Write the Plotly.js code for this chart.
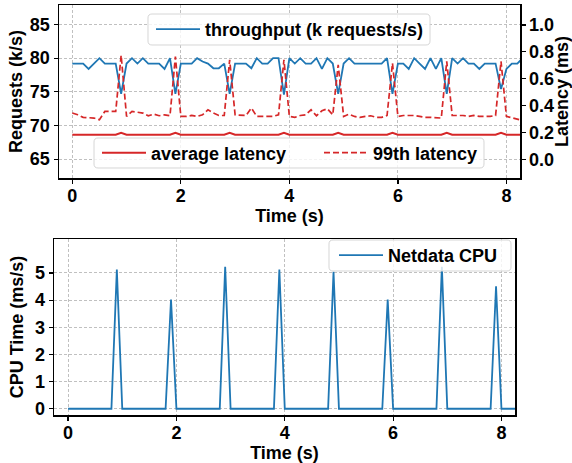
<!DOCTYPE html>
<html>
<head>
<meta charset="utf-8">
<script src="https://cdn.plot.ly/plotly-3.0.1.min.js"></script>
<style>html,body{margin:0;padding:0;background:#fff;}#chart{width:572px;height:463px;}</style>
</head>
<body>
<div id="chart"></div>
<script>
var time = [0.0,0.1,0.2,0.3,0.4,0.5,0.6,0.7,0.8,0.9,1.0,1.1,1.2,1.3,1.4,1.5,1.6,1.7,1.8,1.9,2.0,2.1,2.2,2.3,2.4,2.5,2.6,2.7,2.8,2.9,3.0,3.1,3.2,3.3,3.4,3.5,3.6,3.7,3.8,3.9,4.0,4.1,4.2,4.3,4.4,4.5,4.6,4.7,4.8,4.9,5.0,5.1,5.2,5.3,5.4,5.5,5.6,5.7,5.8,5.9,6.0,6.1,6.2,6.3,6.4,6.5,6.6,6.7,6.8,6.9,7.0,7.1,7.2,7.3,7.4,7.5,7.6,7.7,7.8,7.9,8.0,8.1,8.2,8.3];

var throughput = [79.2,79.2,79.2,78.4,79.2,80.0,79.2,79.2,79.2,74.7,
  79.2,80.0,79.2,80.0,79.2,79.2,79.2,78.4,80.0,74.7,
  79.2,79.2,79.2,80.0,79.5,79.2,78.5,78.5,79.2,74.7,
  79.2,79.2,79.2,78.5,80.0,79.2,79.2,80.0,80.0,74.6,
  80.0,79.2,80.0,79.2,79.2,80.0,78.4,80.0,79.2,74.7,
  79.2,80.0,79.2,79.2,79.2,79.2,79.2,79.2,80.0,74.7,
  79.2,79.2,78.4,80.0,79.2,78.4,80.0,78.4,80.0,74.7,
  80.0,79.2,80.0,79.2,79.2,78.4,79.2,79.2,79.2,75.4,
  78.4,79.2,79.2,80.0];

var avgLatency = [0.185,0.185,0.185,0.185,0.185,0.185,0.185,0.185,0.185,0.2,
  0.185,0.185,0.185,0.185,0.185,0.185,0.185,0.185,0.185,0.2,
  0.185,0.185,0.185,0.185,0.185,0.185,0.185,0.185,0.185,0.2,
  0.185,0.185,0.185,0.185,0.185,0.185,0.185,0.185,0.185,0.2,
  0.185,0.185,0.185,0.185,0.185,0.185,0.185,0.185,0.185,0.2,
  0.185,0.185,0.185,0.185,0.185,0.185,0.185,0.185,0.185,0.2,
  0.185,0.185,0.185,0.185,0.185,0.185,0.185,0.185,0.185,0.2,
  0.185,0.185,0.185,0.185,0.185,0.185,0.185,0.185,0.185,0.2,
  0.185,0.185,0.185,0.185];

var p99Latency = [0.346,0.333,0.314,0.309,0.309,0.296,0.358,0.358,0.358,0.775,
  0.321,0.358,0.351,0.346,0.326,0.338,0.326,0.333,0.326,0.765,
  0.321,0.321,0.328,0.321,0.333,0.370,0.346,0.328,0.328,0.741,
  0.333,0.328,0.328,0.383,0.321,0.321,0.321,0.321,0.333,0.741,
  0.321,0.314,0.328,0.333,0.370,0.326,0.363,0.378,0.333,0.704,
  0.321,0.338,0.321,0.314,0.321,0.326,0.314,0.314,0.328,0.716,
  0.321,0.328,0.328,0.328,0.321,0.314,0.314,0.309,0.309,0.730,
  0.328,0.328,0.328,0.321,0.328,0.321,0.321,0.321,0.328,0.730,
  0.321,0.309,0.296,0.290];

var netdataCpu = [0,0,0,0,0,0,0,0,0,5.13,
  0,0,0,0,0,0,0,0,0,4.02,
  0,0,0,0,0,0,0,0,0,5.23,
  0,0,0,0,0,0,0,0,0,5.13,
  0,0,0,0,0,0,0,0,0,5.04,
  0,0,0,0,0,0,0,0,0,4.02,
  0,0,0,0,0,0,0,0,0,5.23,
  0,0,0,0,0,0,0,0,0,4.51,
  0,0,0,0];

var xTicks = [0, 2, 4, 6, 8];
var reqTicks = [65, 70, 75, 80, 85];
var latTicks = [0.0, 0.2, 0.4, 0.6, 0.8, 1.0];
var latTickText = ["0.0", "0.2", "0.4", "0.6", "0.8", "1.0"];
var cpuTicks = [0, 1, 2, 3, 4, 5];

var W = 572, H = 463;
var FAM = "Liberation Sans, Arial, sans-serif";
var FONT = {family: FAM, size: 18, color: "#000", weight: "bold"};
var TICKFONT = {family: FAM, size: 18, color: "#000", weight: "bold"};
var BLUE = "#1f77b4", RED = "#d62728";
var GRID = "#b0b0b0";

function px(x) { return x / W; }
function py(y) { return (H - y) / H; }

// rounded legend frame (pixel box -> paper path)
function frame(x0, y0, x1, y1) {
  var r = 4;
  var X = function (v) { return px(v).toFixed(5); };
  var Y = function (v) { return py(v).toFixed(5); };
  var d = "M" + X(x0 + r) + "," + Y(y0) +
    " L" + X(x1 - r) + "," + Y(y0) + " Q" + X(x1) + "," + Y(y0) + " " + X(x1) + "," + Y(y0 + r) +
    " L" + X(x1) + "," + Y(y1 - r) + " Q" + X(x1) + "," + Y(y1) + " " + X(x1 - r) + "," + Y(y1) +
    " L" + X(x0 + r) + "," + Y(y1) + " Q" + X(x0) + "," + Y(y1) + " " + X(x0) + "," + Y(y1 - r) +
    " L" + X(x0) + "," + Y(y0 + r) + " Q" + X(x0) + "," + Y(y0) + " " + X(x0 + r) + "," + Y(y0) + " Z";
  return {type: "path", xref: "paper", yref: "paper", path: d, layer: "above",
    fillcolor: "rgba(255,255,255,0.8)", line: {color: "#d6d6d6", width: 1}};
}

var traces = [
  {x: time, y: throughput, type: "scatter", mode: "lines", name: "throughput (k requests/s)",
   line: {color: BLUE, width: 1.8}, xaxis: "x", yaxis: "y", legend: "legend"},
  {x: time, y: avgLatency, type: "scatter", mode: "lines", name: "average latency",
   line: {color: RED, width: 2}, xaxis: "x", yaxis: "y2", legend: "legend2"},
  {x: time, y: p99Latency, type: "scatter", mode: "lines", name: "99th latency",
   line: {color: RED, width: 1.7, dash: "6px,3px"}, xaxis: "x", yaxis: "y2", legend: "legend2"},
  {x: time, y: netdataCpu, type: "scatter", mode: "lines", name: "Netdata CPU",
   line: {color: BLUE, width: 1.8}, xaxis: "x2", yaxis: "y3", legend: "legend3"}
];

var axisCommon = {
  showline: true, linecolor: "#000", linewidth: 1.5, mirror: true,
  ticks: "outside", ticklen: 4, tickwidth: 1.2, tickcolor: "#000",
  tickfont: TICKFONT, zeroline: false,
  gridcolor: GRID, griddash: "3px,2px", gridwidth: 0.8
};

function ax(extra) { return Object.assign({}, axisCommon, extra); }

var legendCommon = {
  font: FONT, bgcolor: "rgba(0,0,0,0)", borderwidth: 0, itemwidth: 44,
  xref: "paper", yref: "paper", xanchor: "left", yanchor: "middle"
};

var layout = {
  width: W, height: H,
  margin: {l: 0, r: 0, t: 0, b: 0},
  paper_bgcolor: "#fff", plot_bgcolor: "#fff",
  showlegend: true,
  font: FONT,
  xaxis: ax({domain: [px(59), px(520)], range: [-0.245, 8.25], tickvals: xTicks, showgrid: true,
    ticklabelstandoff: -3, anchor: "y", title: {text: "Time (s)", font: FONT, standoff: 0}}),
  yaxis: ax({domain: [py(178), py(5)], range: [62.2, 87.9], tickvals: reqTicks, showgrid: true,
    anchor: "x", title: {text: "Requests (k/s)", font: FONT, standoff: 2}}),
  yaxis2: ax({overlaying: "y", side: "right", anchor: "x", range: [-0.136, 1.148],
    tickvals: latTicks, ticktext: latTickText, showgrid: false, mirror: false,
    title: {text: "Latency (ms)", font: FONT, standoff: 4}}),
  xaxis2: ax({domain: [px(54), px(515)], range: [-0.26, 8.25], tickvals: xTicks, showgrid: true,
    ticklabelstandoff: -3, anchor: "y3", title: {text: "Time (s)", font: FONT, standoff: 0}}),
  yaxis3: ax({domain: [py(415), py(239)], range: [-0.23, 6.25], tickvals: cpuTicks, showgrid: true,
    anchor: "x2", title: {text: "CPU Time (ms/s)", font: FONT, standoff: 6}}),
  shapes: [frame(148, 14, 430, 45), frame(94, 138, 484, 168), frame(329, 240, 511, 271)],
  legend: Object.assign({}, legendCommon, {x: px(151), y: py(29.5)}),
  legend2: Object.assign({}, legendCommon, {x: px(97), y: py(153), orientation: "h",
    entrywidth: 163, entrywidthmode: "pixels"}),
  legend3: Object.assign({}, legendCommon, {x: px(334), y: py(255.5)})
};

Plotly.newPlot("chart", traces, layout, {staticPlot: true, displayModeBar: false});
</script>
</body>
</html>
